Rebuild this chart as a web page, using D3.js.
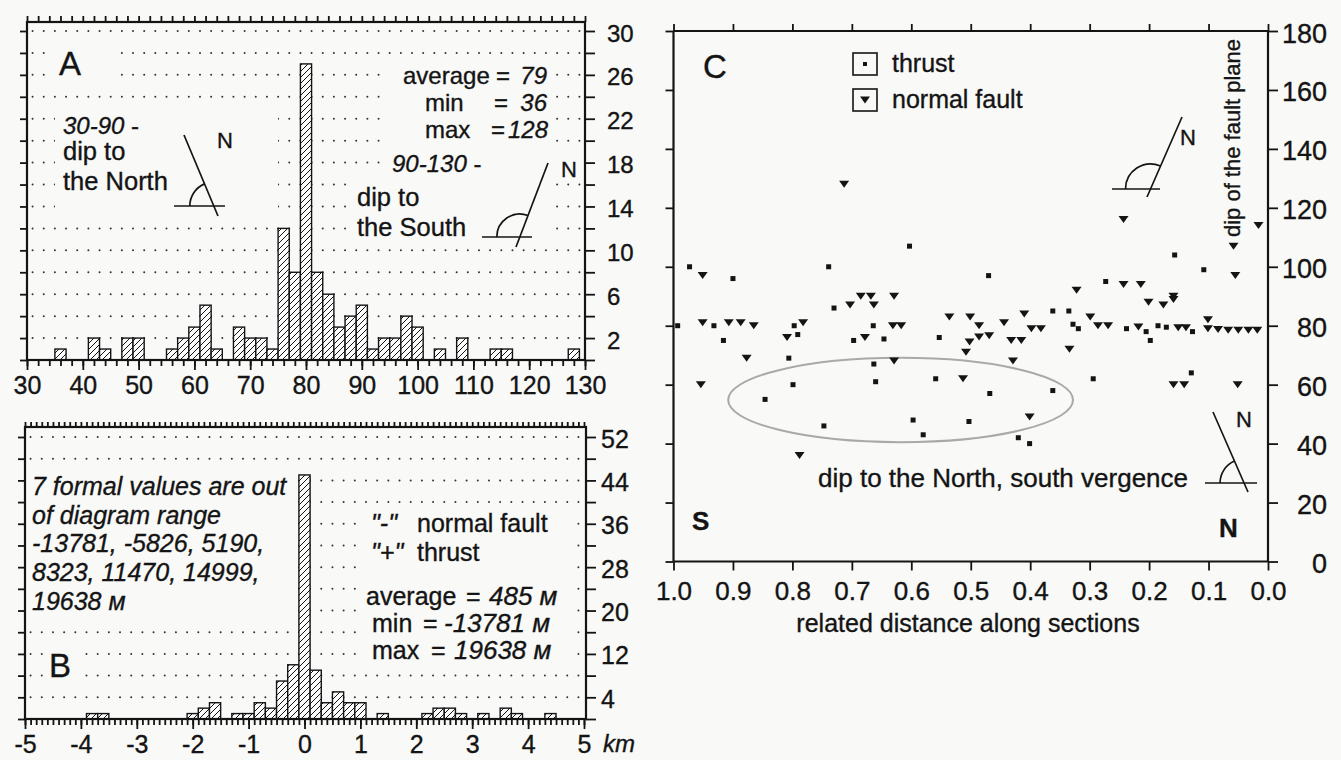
<!DOCTYPE html>
<html><head><meta charset="utf-8">
<script src="https://cdn.jsdelivr.net/npm/d3@7/dist/d3.min.js"></script>
<style>
html,body{margin:0;padding:0;background:#f9f9f8;}
svg{display:block;}
</style></head><body>
<svg id="fig" width="1341" height="760"></svg>
<script>
// ---------------- DATA ----------------
// Panel A: histogram of fault-plane dip (2-degree bins, bin centres)
const dipBinCenters = [36,38,40,42,44,46,48,50,52,54,56,58,60,62,64,66,68,70,72,74,76,78,80,82,84,86,88,90,92,94,96,98,100,102,104,106,108,110,112,114,116,118,120,122,124,126,128];
const dipCounts     = [1,0,0,2,1,0,2,2,0,0,1,2,3,5,1,0,3,2,2,1,12,8,27,8,6,3,4,5,1,2,2,4,3,0,1,0,2,0,0,1,1,0,0,0,0,0,1];
const dipAxisLabels = [30,40,50,60,70,80,90,100,110,120,130];
const countLabelsA  = [2,6,10,14,18,22,26,30];

// Panel B: histogram of offsets, km (0.2 km bins, bin centres; empty bins omitted)
const offsetBinCenters = [-3.8,-3.6,-2.0,-1.8,-1.6,-1.2,-1.0,-0.8,-0.6,-0.4,-0.2,0.0,0.2,0.4,0.6,0.8,1.0,1.4,2.2,2.4,2.6,2.8,3.2,3.6,3.8,4.4];
const offsetCounts     = [1,1,1,2,3,1,1,3,2,7,10,45,9,3,5,3,3,1,1,2,2,1,1,2,1,1];
const kmAxisLabels     = [-5,-4,-3,-2,-1,0,1,2,3,4,5];
const countLabelsB     = [4,12,20,28,36,44,52];

// Panel C: dip of fault plane vs related distance along sections
const thrustDistance = [0.973,0.900,0.739,0.603,0.470,0.730,0.932,0.797,0.664,0.916,0.791,0.697,0.646,0.553,0.806,0.663,0.799,0.660,0.559,0.468,0.846,0.747,0.597,0.580,0.503,0.328,0.319,0.238,0.205,0.198,0.185,0.171,0.127,0.294,0.129,0.362,0.420,0.401,0.157,0.108,0.273,0.362,0.335,0.993];
const thrustDip      = [100,96,100,107,97,86,80,80,80,75,77,75,75.5,76,69,67,60,61,62,57,55,46,48,43,47.5,80.5,79,79,78,75,80,79.5,78,62,64,58,42,40,104,99,95,85,85,80];
const normalDistance = [0.713,0.951,0.685,0.668,0.629,0.703,0.663,0.536,0.501,0.486,0.951,0.907,0.887,0.865,0.782,0.631,0.617,0.809,0.678,0.502,0.486,0.469,0.877,0.629,0.508,0.954,0.513,0.788,0.444,0.398,0.382,0.286,0.269,0.218,0.151,0.138,0.101,0.101,0.084,0.067,0.050,0.033,0.018,0.432,0.415,0.429,0.334,0.159,0.141,0.051,0.401,0.243,0.016,0.058,0.055,0.243,0.214,0.322,0.201,0.176,0.159,0.159,0.410,0.299];
const normalDip      = [128,97,90,90,90,87,87,83,83,80,81,81,81,80,81,80,80,76,76,74.5,76.2,76.6,69,68,71,60,62,36,81,79,79,80,80,79.6,79.3,79.3,82,79,78.7,78.5,78.5,78.5,78.5,75,75,68,72,60,60,60,49,116,114,107,97,94,94,92,88,87,90,88.9,84,83];
const distAxisLabels = [1.0,0.9,0.8,0.7,0.6,0.5,0.4,0.3,0.2,0.1,0.0];
const dipLabelsC     = [0,20,40,60,80,100,120,140,160,180];

// ---------------- DRAWING ----------------
const svg = d3.select('#fig');
const BG = '#f9f9f8', INK = '#141414';
const FONT = '"Liberation Sans", Arial, Helvetica, sans-serif';
svg.append('rect').attr('width',1341).attr('height',760).attr('fill',BG);

const defs = svg.append('defs');
const pat = defs.append('pattern').attr('id','hatch').attr('patternUnits','userSpaceOnUse')
  .attr('width',6).attr('height',6);
pat.append('rect').attr('width',6).attr('height',6).attr('fill','#fdfdfd');
pat.append('path').attr('d','M-1.5,7.5 L7.5,-1.5 M-1.5,1.5 L1.5,-1.5 M4.5,7.5 L7.5,4.5')
  .attr('stroke',INK).attr('stroke-width',1).attr('fill','none');

function txt(g, x, y, s, size, o={}) {
  const t = g.append('text').attr('x',x).attr('y',y).attr('font-size',size)
    .attr('font-family',FONT).attr('fill',INK).attr('stroke',INK).attr('stroke-width',0.35).text(s);
  if (o.italic) t.attr('font-style','italic');
  if (o.bold) t.attr('font-weight','bold');
  if (o.anchor) t.attr('text-anchor',o.anchor);
  return t;
}
function mask(g,x,y,w,h){ g.append('rect').attr('x',x).attr('y',y).attr('width',w).attr('height',h).attr('fill',BG); }
function dotRows(g, xs, ys){
  const pts = [];
  ys.forEach(y => xs.forEach(x => pts.push([x,y])));
  g.append('g').selectAll('circle').data(pts).join('circle')
    .attr('cx',d=>d[0]).attr('cy',d=>d[1]).attr('r',1).attr('fill','#333');
}
function frame(g,x0,y0,x1,y1){
  g.append('rect').attr('x',x0).attr('y',y0).attr('width',x1-x0).attr('height',y1-y0)
   .attr('fill','none').attr('stroke',INK).attr('stroke-width',2.2);
}
function styleAxis(sel, fs){
  sel.attr('font-family',FONT);
  sel.select('.domain').remove();
  sel.selectAll('.tick line').attr('stroke',INK).attr('stroke-width',1.8);
  sel.selectAll('.tick text').attr('fill',INK).attr('stroke',INK).attr('stroke-width',0.35);
  if (fs) sel.selectAll('.tick text').attr('font-size',fs);
  return sel;
}
function line(g,x1,y1,x2,y2,w=1.7){ g.append('line').attr('x1',x1).attr('y1',y1).attr('x2',x2).attr('y2',y2).attr('stroke',INK).attr('stroke-width',w); }
function dipSymbol(g, top, bot, hx1, hx2, hy, r){
  line(g, top[0], top[1], bot[0], bot[1]);
  line(g, hx1, hy, hx2, hy);
  const cx = top[0] + (hy-top[1])*(bot[0]-top[0])/(bot[1]-top[1]);
  const dx = top[0]-cx, dy = top[1]-hy, L = Math.hypot(dx,dy);
  const ex = cx + r*dx/L, ey = hy + r*dy/L;
  g.append('path').attr('d',`M${cx-r},${hy} A${r},${r} 0 0 1 ${ex},${ey}`)
    .attr('fill','none').attr('stroke',INK).attr('stroke-width',1.7);
}

// ======== PANEL A ========
const A = {l:27, r:585, t:22, b:360};
const xA = d3.scaleLinear().domain([30,130]).range([A.l,A.r]);
const yA = d3.scaleLinear().domain([0,30]).range([A.b,31]);
const gA = svg.append('g');
dotRows(gA, d3.range(31,130,2).map(xA), d3.range(2,31,2).map(yA));
mask(gA,45,40,67,44);
mask(gA,55,106,223,112);
mask(gA,385,62,170,88);
mask(gA,385,150,205,22);
mask(gA,350,172,205,66);

gA.append('g').selectAll('rect')
  .data(dipBinCenters.map((c,i)=>({c, n:dipCounts[i]})).filter(d=>d.n>0))
  .join('rect')
  .attr('x',d=>xA(d.c-1)).attr('width',d=>xA(d.c+1)-xA(d.c-1))
  .attr('y',d=>yA(d.n)).attr('height',d=>yA(0)-yA(d.n))
  .attr('fill','url(#hatch)').attr('stroke',INK).attr('stroke-width',1.4);

styleAxis(gA.append('g').attr('transform',`translate(0,${A.b})`)
  .call(d3.axisBottom(xA).tickValues(d3.range(30,131,2)).tickSize(6).tickFormat('')));
const axAb = styleAxis(gA.append('g').attr('transform',`translate(0,${A.b})`)
  .call(d3.axisBottom(xA).tickValues(dipAxisLabels).tickSize(10).tickFormat(d3.format('d'))), 25);
axAb.selectAll('.tick text').attr('y',34).attr('dy',null);
styleAxis(gA.append('g').attr('transform',`translate(0,${A.t})`)
  .call(d3.axisTop(xA).tickValues(d3.range(30,131,2)).tickSize(6).tickFormat('')));
styleAxis(gA.append('g').attr('transform',`translate(${A.l},0)`)
  .call(d3.axisLeft(yA).tickValues(d3.range(0,31,2)).tickSize(7).tickFormat('')));
const axAr = styleAxis(gA.append('g').attr('transform',`translate(${A.r},0)`)
  .call(d3.axisRight(yA).tickValues(d3.range(0,31,2)).tickSize(10).tickFormat(d=>countLabelsA.includes(d)?d:'')), 24);
axAr.selectAll('.tick text').attr('x',22).attr('dy',null).attr('y',10);
frame(gA,A.l,A.t,A.r,A.b);

txt(gA,59,75,'A',33);
const t1 = txt(gA,63,134,'',24); t1.append('tspan').attr('font-style','italic').text('30-90'); t1.append('tspan').text(' -');
txt(gA,63,160,'dip to',25.5);
txt(gA,63,190,'the North',25.5);
txt(gA,217,148,'N',22);
dipSymbol(gA,[184,135],[218,216],174,225,206,24);

txt(gA,403,84,'average',24); txt(gA,496,84,'=',24); txt(gA,547,84,'79',24,{italic:true,anchor:'end'});
txt(gA,425,111,'min',24);     txt(gA,494,111,'=',24); txt(gA,547,111,'36',24,{italic:true,anchor:'end'});
txt(gA,425,138,'max',24);     txt(gA,491,138,'=',24); txt(gA,548,138,'128',24,{italic:true,anchor:'end'});
const t2 = txt(gA,392,172,'',24); t2.append('tspan').attr('font-style','italic').text('90-130'); t2.append('tspan').text(' -');
txt(gA,357,206,'dip to',25.5);
txt(gA,357,236,'the South',25.5);
txt(gA,561,177,'N',22);
dipSymbol(gA,[548,163],[516,247],482,532,237,23);

// ======== PANEL B ========
const B = {l:25, r:586, t:427, b:719};
const xB = d3.scaleLinear().domain([-5,5]).range([B.l,584]);
const yB = d3.scaleLinear().domain([0,52]).range([B.b,437]);
const gB = svg.append('g');
dotRows(gB, d3.range(-49,50,2).map(v=>xB(v/10)), d3.range(4,53,4).map(yB));
mask(gB,29,466,266,154);
mask(gB,44,642,36,44);
mask(gB,360,513,212,151);

gB.append('g').selectAll('rect')
  .data(offsetBinCenters.map((c,i)=>({c, n:offsetCounts[i]})))
  .join('rect')
  .attr('x',d=>xB(d.c-0.1)).attr('width',d=>xB(d.c+0.1)-xB(d.c-0.1))
  .attr('y',d=>yB(d.n)).attr('height',d=>yB(0)-yB(d.n))
  .attr('fill','url(#hatch)').attr('stroke',INK).attr('stroke-width',1.4);

styleAxis(gB.append('g').attr('transform',`translate(0,${B.b})`)
  .call(d3.axisBottom(xB).tickValues(d3.range(-50,51,1).map(v=>v/10)).tickSize(6).tickFormat('')));
const axBb = styleAxis(gB.append('g').attr('transform',`translate(0,${B.b})`)
  .call(d3.axisBottom(xB).tickValues(kmAxisLabels).tickSize(10).tickFormat(d3.format('d'))), 25);
axBb.selectAll('.tick text').attr('y',34).attr('dy',null).text(d=>String(d));
styleAxis(gB.append('g').attr('transform',`translate(0,${B.t})`)
  .call(d3.axisTop(xB).tickValues(d3.range(-50,51,1).map(v=>v/10)).tickSize(5).tickFormat('')));
styleAxis(gB.append('g').attr('transform',`translate(${B.l},0)`)
  .call(d3.axisLeft(yB).tickValues(d3.range(0,53,4)).tickSize(7).tickFormat('')));
const axBr = styleAxis(gB.append('g').attr('transform',`translate(${B.r},0)`)
  .call(d3.axisRight(yB).tickValues(d3.range(0,53,4)).tickSize(10).tickFormat(d=>countLabelsB.includes(d)?d:'')), 25);
axBr.selectAll('.tick text').attr('x',15).attr('dy',null).attr('y',10);
frame(gB,B.l,B.t,B.r,B.b);
txt(gB,603,752,'km',24,{italic:true});

['7 formal values are out','of diagram range','-13781, -5826, 5190,','8323, 11470, 14999,','19638 м']
  .forEach((s,i)=>txt(gB,32,495+i*28.7,s,25,{italic:true}));
txt(gB,49,677,'B',33);
txt(gB,371,532,'"-"',25,{italic:true}); txt(gB,417,532,'normal fault',25);
txt(gB,371,561,'"+"',25,{italic:true}); txt(gB,417,561,'thrust',25);
txt(gB,366,605,'average',25); txt(gB,466,605,'=',25); txt(gB,489,605,'485 м',26,{italic:true});
txt(gB,372,632,'min',25);     txt(gB,423,632,'=',25); txt(gB,444,632,'-13781 м',26,{italic:true});
txt(gB,372,659,'max',25);     txt(gB,431,659,'=',25); txt(gB,454,659,'19638 м',26,{italic:true});

// ======== PANEL C ========
const C = {l:673.5, r:1268, t:31, b:561.5};
const xC = d3.scaleLinear().domain([1,0]).range([C.l,C.r]);
const yC = d3.scaleLinear().domain([0,180]).range([C.b,C.t]);
const gC = svg.append('g');

gC.append('ellipse').attr('cx',xC(0.618)).attr('cy',yC(54.8))
  .attr('rx',Math.abs(xC(0.29)-xC(0))).attr('ry',Math.abs(yC(14.3)-yC(0)))
  .attr('fill','none').attr('stroke','#a9a9a9').attr('stroke-width',2);

styleAxis(gC.append('g').attr('transform',`translate(0,${C.t})`)
  .call(d3.axisTop(xC).tickValues(distAxisLabels).tickSize(7).tickFormat('')));
const axCb = styleAxis(gC.append('g').attr('transform',`translate(0,${C.b})`)
  .call(d3.axisBottom(xC).tickValues(distAxisLabels).tickSize(9).tickFormat(d3.format('.1f'))), 26);
axCb.selectAll('.tick text').attr('y',38).attr('dy',null);
styleAxis(gC.append('g').attr('transform',`translate(${C.l},0)`)
  .call(d3.axisLeft(yC).tickValues(dipLabelsC).tickSize(8).tickFormat('')));
const axCr = styleAxis(gC.append('g').attr('transform',`translate(${C.r},0)`)
  .call(d3.axisRight(yC).tickValues(dipLabelsC).tickSize(10).tickFormat(d3.format('d'))), 27);
axCr.selectAll('.tick text').attr('x',59).attr('text-anchor','end').attr('dy',null).attr('y',11);
line(gC,C.l,C.t,C.r,C.t,2.2); line(gC,C.l,C.b,C.r,C.b,2.2);
line(gC,C.l,C.t,C.l,C.b,2.2); line(gC,C.r,C.t,C.r,C.b,2.2);

const tri = 'M-5,-3.5 L5,-3.5 L0,3.5 Z';
gC.append('g').selectAll('path').data(normalDistance.map((d,i)=>[d,normalDip[i]])).join('path')
  .attr('d',tri).attr('transform',d=>`translate(${xC(d[0])},${yC(d[1])})`).attr('fill',INK);
gC.append('g').selectAll('rect').data(thrustDistance.map((d,i)=>[d,thrustDip[i]])).join('rect')
  .attr('x',d=>xC(d[0])-2.5).attr('y',d=>yC(d[1])-2.5).attr('width',5).attr('height',5).attr('fill',INK);

// legend
gC.append('rect').attr('x',853).attr('y',53).attr('width',24).attr('height',22).attr('fill','none').attr('stroke',INK).attr('stroke-width',1.6);
gC.append('rect').attr('x',863).attr('y',62).attr('width',4).attr('height',4).attr('fill',INK);
gC.append('rect').attr('x',853).attr('y',89).attr('width',24).attr('height',22).attr('fill','none').attr('stroke',INK).attr('stroke-width',1.6);
gC.append('path').attr('d',tri).attr('transform','translate(865,100)').attr('fill',INK);
txt(gC,892,72,'thrust',25);
txt(gC,892,108,'normal fault',25);

txt(gC,703,78,'C',33);
txt(gC,692,530,'S',26,{bold:true});
txt(gC,1219,537,'N',26,{bold:true});
txt(gC,818,487,'dip to the North, south vergence',26);
txt(gC,968,632,'related distance along sections',25,{anchor:'middle'});
txt(gC,0,0,'dip of the fault plane',22,{anchor:'middle'}).attr('transform','translate(1240,138) rotate(-90)');
txt(gC,1180,145,'N',22);
dipSymbol(gC,[1182,117],[1147,197],1112,1160,189,25);
txt(gC,1236,427,'N',22);
dipSymbol(gC,[1213,412],[1248,492],1205,1257,483,24);
</script>
</body></html>
